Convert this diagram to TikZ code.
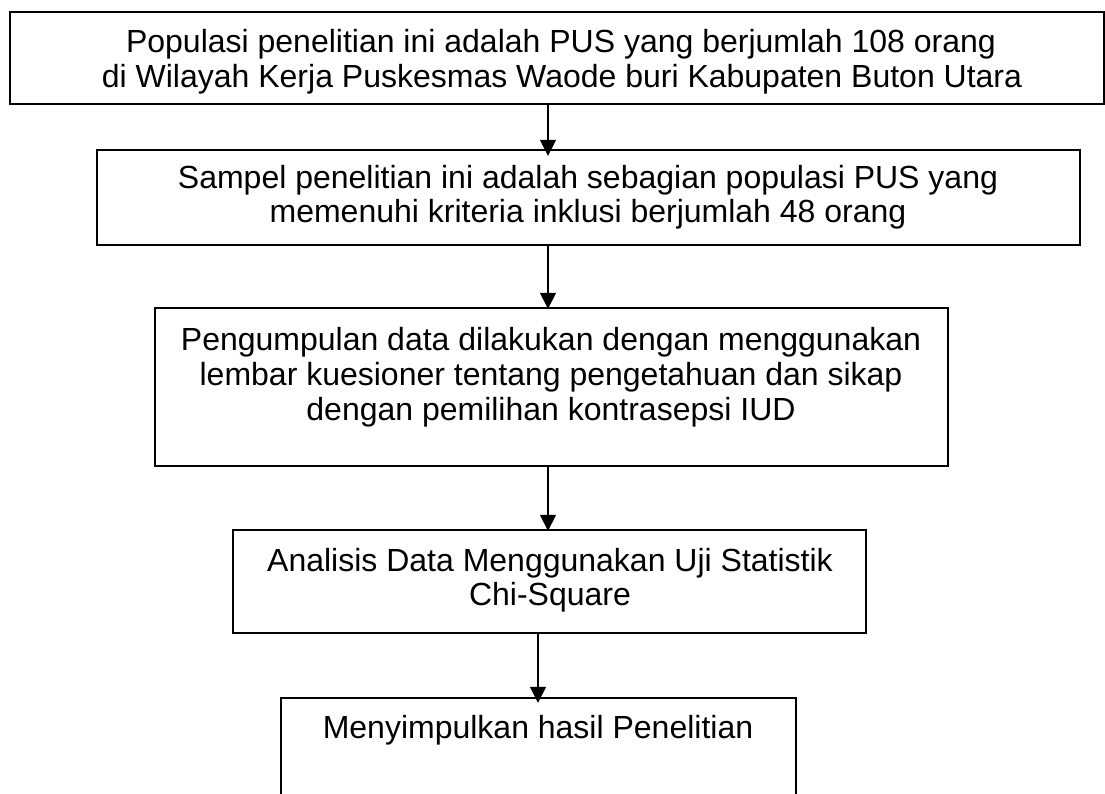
\documentclass[tikz,border=0pt]{standalone}
\usepackage{fontspec}
\setmainfont{Liberation Sans}
\usetikzlibrary{arrows.meta}
\begin{document}
\begin{tikzpicture}[x=1pt,y=-1pt,
  boxst/.style={draw=black, line width=1.6pt, fill=none},
  txt/.style={font=\fontsize{32}{35}\selectfont, anchor=base, inner sep=0pt},
  arr/.style={line width=1.6pt, -{Triangle[length=16pt,width=16pt]}}]
\useasboundingbox (0,0) rectangle (1105,794);
% boxes
\draw[boxst] (10,12) rectangle (1104,104);
\node[inner sep=0pt, minimum width=1094pt, minimum height=92pt] (b1) at (557,58) {};
\draw[boxst] (97,150) rectangle (1080,245);
\node[inner sep=0pt, minimum width=983pt, minimum height=95pt] (b2) at (588.5,197.5) {};
\draw[boxst] (155,308) rectangle (948,466);
\node[inner sep=0pt, minimum width=793pt, minimum height=158pt] (b3) at (551.5,387) {};
\draw[boxst] (233,530) rectangle (866,633);
\node[inner sep=0pt, minimum width=633pt, minimum height=103pt] (b4) at (549.5,581.5) {};
\node[inner sep=0pt, minimum width=515pt, minimum height=100pt] (b5) at (538.5,748) {};
\draw[boxst] (b5.south west) -- (b5.north west) -- (b5.north east) -- (b5.south east);
% texts
\node[txt] (t1a) at (561,53) {Populasi penelitian ini adalah PUS yang berjumlah 108 orang};
\node[txt] (t1b) at (562,88) {di Wilayah Kerja Puskesmas Waode buri Kabupaten Buton Utara};
\node[txt] (t2a) at (588,189) {Sampel penelitian ini adalah sebagian populasi PUS yang};
\node[txt] (t2b) at (588,223) {memenuhi kriteria inklusi berjumlah 48 orang};
\node[txt] (t3a) at (551,350) {Pengumpulan data dilakukan dengan menggunakan};
\node[txt] (t3b) at (551,385) {lembar kuesioner tentang pengetahuan dan sikap};
\node[txt] (t3c) at (551,420) {dengan pemilihan kontrasepsi IUD};
\node[txt] (t4a) at (550,571) {Analisis Data Menggunakan Uji Statistik};
\node[txt] (t4b) at (550,605) {Chi-Square};
\node[txt] (t5) at (538,738) {Menyimpulkan hasil Penelitian};
% arrow x positions
\coordinate (a1) at (548,0);
\coordinate (a2) at (548,0);
\coordinate (a3) at (548,0);
\coordinate (a4) at (538,0);
\draw[arr] (b1.south -| a1) -- ([yshift=-6pt]b2.north -| a1);
\draw[arr] (b2.south -| a2) -- ([yshift=-1pt]b3.north -| a2);
\draw[arr] (b3.south -| a3) -- ([yshift=-1pt]b4.north -| a3);
\draw[arr] (b4.south -| a4) -- ([yshift=-5pt]b5.north -| a4);
\end{tikzpicture}
\end{document}
